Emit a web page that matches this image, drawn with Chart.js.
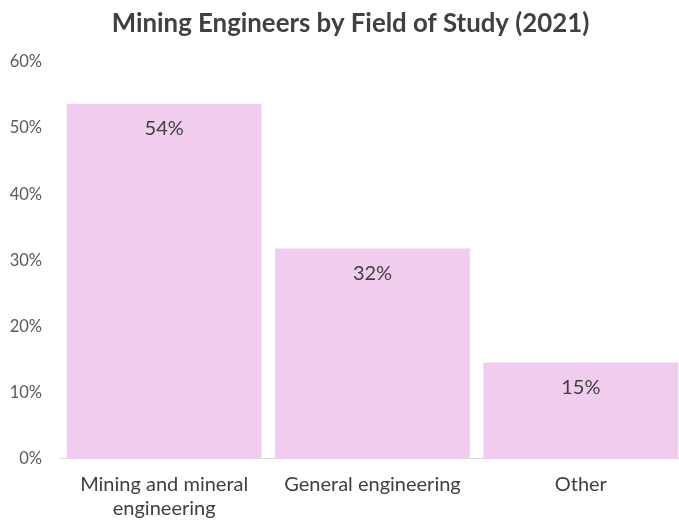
<!DOCTYPE html>
<html>
<head>
<meta charset="utf-8">
<script src="https://cdn.jsdelivr.net/npm/chart.js@4"></script>
<style>
  html, body { margin: 0; padding: 0; background: #fff; overflow: hidden; }
  #wrap { width: 700px; height: 521px; }
</style>
</head>
<body>
<div id="wrap"><canvas id="fieldChart" width="700" height="521"></canvas></div>
<script>
const categories = [['Mining and mineral', 'engineering'], 'General engineering', 'Other'];
const shares = [53.7, 31.8, 14.6];
const yTicks = [0, 10, 20, 30, 40, 50, 60];

// draws the % label inside each bar, just below its top
const barLabels = {
  id: 'barLabels',
  afterDatasetsDraw(chart) {
    const ctx = chart.ctx;
    const meta = chart.getDatasetMeta(0);
    ctx.save();
    ctx.font = '20px Lato';
    ctx.fillStyle = '#404040';
    ctx.textAlign = 'center';
    ctx.textBaseline = 'middle';
    meta.data.forEach((bar, i) => {
      ctx.fillText(Math.round(shares[i]) + '%', bar.x, bar.y + 25);
    });
    ctx.restore();
  }
};

// nudge the title a little right so it sits where the original did
const titleShift = {
  id: 'titleShift',
  afterLayout(chart) {
    if (chart.titleBlock) chart.titleBlock.left += 16;
  }
};

const ctx = document.getElementById('fieldChart');

new Chart(ctx, {
  type: 'bar',
  data: {
    labels: categories,
    datasets: [{
      label: 'Share',
      data: shares,
      backgroundColor: '#F0CDEE',
      barPercentage: 0.935,
      categoryPercentage: 1.0
    }]
  },
  options: {
    responsive: false,
    animation: false,
    layout: {
      padding: { left: 0, right: 15, top: 8, bottom: 0 }
    },
    scales: {
      y: {
        min: 0,
        max: 60,
        afterBuildTicks: (axis) => { axis.ticks = yTicks.map(v => ({ value: v })); },
        afterFit: (axis) => { axis.width = 60; },
        ticks: {
          callback: (v) => v + '%',
          color: '#595959',
          font: { family: 'Lato', size: 16.5 },
          padding: 10
        },
        grid: { display: false },
        border: { display: false }
      },
      x: {
        ticks: {
          color: '#404040',
          font: { family: 'Lato', size: 20 },
          maxRotation: 0,
          padding: 0
        },
        grid: { display: false, tickLength: 14 },
        border: { display: true, color: '#D9D9D9', width: 1 }
      }
    },
    plugins: {
      legend: { display: false },
      tooltip: { enabled: false },
      title: {
        display: true,
        text: 'Mining Engineers by Field of Study (2021)',
        color: '#404040',
        font: { family: 'Lato', size: 25.8, weight: 'bold' },
        padding: { top: 0, bottom: 23 }
      }
    }
  },
  plugins: [barLabels, titleShift]
});
</script>
</body>
</html>
